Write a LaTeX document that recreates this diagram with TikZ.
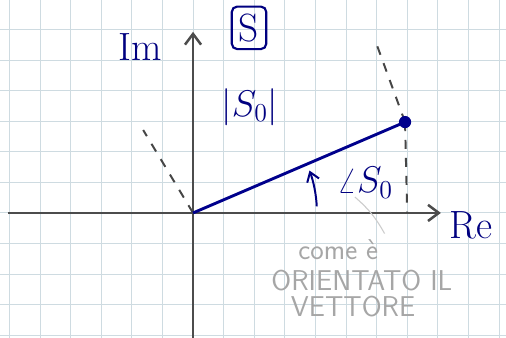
\documentclass[tikz,border=0pt]{standalone}
\usepackage{tikz}
\usetikzlibrary{arrows.meta, positioning}

\begin{document}
\begin{tikzpicture}[
    x=0.6cm, y=0.6cm,
    gridline/.style={
        line width=0.5pt, color=cyan!25!gray!35
    },
    axis/.style={
        -{Straight Barb[length=6pt,width=9pt]},
        line width=1.4pt, color=gray!60!black
    },
    vec/.style={
        line width=1.6pt, color=blue!55!black
    },
    guide/.style={
        dashed, dash pattern=on 5pt off 5pt,
        line width=1.1pt, color=gray!55!black
    },
    lbl/.style={
        font=\fontsize{22}{24}\selectfont, text=blue!50!black
    },
    note/.style={
        font=\sffamily\fontsize{16}{18}\selectfont, text=gray!70
    },
]

% Bounding box with graph paper
\useasboundingbox (-6.31,-4.08) rectangle (10.23,6.96);
\fill[white] (-6.31,-4.08) rectangle (10.23,6.96);
\foreach \gx in {-6,...,10}
    \draw[gridline] (\gx,-4.08) -- (\gx,6.96);
\foreach \gy in {-4,...,6}
    \draw[gridline] (-6.31,\gy) -- (10.23,\gy);

% POINTS
\coordinate (O)    at (0,0);
\coordinate (P)    at (6.93,2.97);
\coordinate (Pfoot) at (7.0,0);
\coordinate (Ptop) at (5.95,5.65);
\coordinate (Oguide) at (-1.63,2.71);
\coordinate (xstart) at (-6.05,0);
\coordinate (xend)   at (8.1,0);
\coordinate (ystart) at (0,-4.08);
\coordinate (yend)   at (0,5.92);

% AXES
\draw[axis] (xstart) -- (xend);
\draw[axis] (ystart) -- (yend);
\node[lbl, right=0.05cm of xend, yshift=-0.25cm] (re) {Re};
\node[lbl] (im) at (-1.73,5.42) {Im};
\node[lbl, draw=blue!50!black, line width=1.2pt, rounded corners=3pt,
      inner sep=4pt] (sbox) at (1.83,6.05) {S};

% VECTOR
\draw[guide] (O) -- (Oguide);
\draw[guide] (P) -- (Ptop);
\draw[guide] (P) -- (Pfoot);
\draw[vec] (O) -- (P);
\fill[blue!55!black] (P) circle (0.2);
\node[lbl] (modulus) at (1.86,3.46) {$|S_0|$};

% ANGLE
\draw[-{Straight Barb[length=5pt,width=7pt]}, line width=1.1pt, blue!50!black]
    (3:4.05) arc[start angle=3, end angle=20, radius=4.05];
\node[lbl] (phase) at (5.62,0.98) {$\angle S_0$};

% NOTE
\node[note] (note1) at (4.75,-1.21) {come è};
\node[note] (note2) at (5.52,-2.22) {ORIENTATO IL};
\node[note] (note3) at (5.23,-3.07) {VETTORE};
\draw[gray!40, line width=0.6pt] (5.29,0.52) to[bend left=10] (note1.north east);

\end{tikzpicture}
\end{document}
